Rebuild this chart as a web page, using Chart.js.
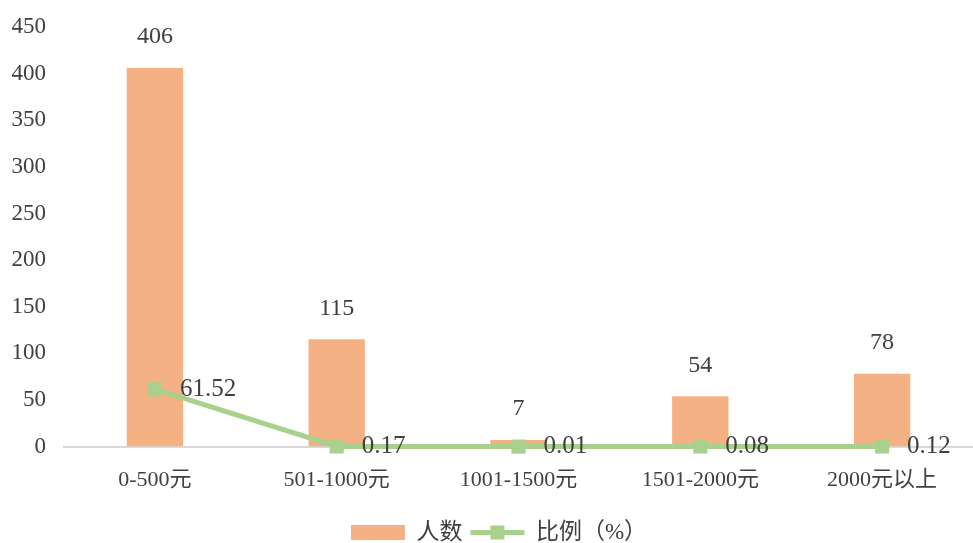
<!DOCTYPE html>
<html>
<head>
<meta charset="utf-8">
<script src="https://cdn.jsdelivr.net/npm/chart.js@4/dist/chart.umd.min.js"></script>
<style>
  html, body { margin: 0; padding: 0; background: #ffffff; }
  #wrap { width: 973px; height: 543px; position: relative; }
</style>
</head>
<body>
<div id="wrap"><canvas id="c" width="973" height="543"></canvas></div>
<script>
const categories = ['0-500元', '501-1000元', '1001-1500元', '1501-2000元', '2000元以上'];
const peopleCounts = [406, 115, 7, 54, 78];
const ratioPercent = [61.52, 0.17, 0.01, 0.08, 0.12];
const ratioLabels = ['61.52', '0.17', '0.01', '0.08', '0.12'];
const seriesNames = ['人数', '比例（%）'];
const yTicksMax = 450;
const yTicksStep = 50;

const FONT = "'Liberation Serif', 'Noto Sans CJK SC', serif";
const TEXT = '#404040';
const BAR = '#F4B183';
const LINE = '#A9D18E';
const LEGEND_SHIFT = 11;

const labelPlugin = {
  id: 'valueLabels',
  afterLayout(chart) {
    const legend = chart.legend;
    if (legend && !legend._shiftWrapped) {
      const orig = legend.draw;
      legend.draw = function () {
        const ctx = this.ctx;
        ctx.save();
        ctx.translate(LEGEND_SHIFT, 0);
        orig.apply(this, arguments);
        ctx.restore();
      };
      legend._shiftWrapped = true;
    }
  },
  afterDatasetsDraw(chart) {
    const ctx = chart.ctx;
    ctx.save();
    ctx.fillStyle = TEXT;
    ctx.font = '24px ' + FONT;
    const barMeta = chart.getDatasetMeta(0);
    ctx.textAlign = 'center';
    ctx.textBaseline = 'middle';
    barMeta.data.forEach((el, i) => {
      ctx.fillText(String(peopleCounts[i]), el.x, el.y - 31);
    });
    const lineMeta = chart.getDatasetMeta(1);
    ctx.textAlign = 'left';
    ctx.font = '25px ' + FONT;
    lineMeta.data.forEach((el, i) => {
      ctx.fillText(ratioLabels[i], el.x + 25, el.y);
    });
    ctx.restore();
  },
  afterDraw(chart) {
    const legend = chart.legend;
    if (!legend || !legend.legendHitBoxes || legend.legendHitBoxes.length < 2) return;
    const hb = legend.legendHitBoxes[1];
    const ctx = chart.ctx;
    const boxW = legend.options.labels.pointStyleWidth;
    const cx = hb.left + boxW / 2 + LEGEND_SHIFT;
    const cy = hb.top + hb.height / 2;
    ctx.save();
    ctx.fillStyle = LINE;
    ctx.fillRect(cx - 7, cy - 7, 14, 14);
    ctx.restore();
  }
};

new Chart(document.getElementById('c'), {
  data: {
    labels: categories,
    datasets: [
      {
        type: 'bar',
        label: seriesNames[0],
        data: peopleCounts,
        backgroundColor: BAR,
        borderWidth: 0,
        categoryPercentage: 1,
        barPercentage: 0.31,
        order: 1
      },
      {
        type: 'line',
        label: seriesNames[1],
        data: ratioPercent,
        borderColor: LINE,
        backgroundColor: LINE,
        borderWidth: 5,
        pointStyle: 'rect',
        pointRadius: 10,
        pointHoverRadius: 10,
        pointBorderWidth: 0,
        tension: 0,
        clip: false,
        order: 0
      }
    ]
  },
  options: {
    responsive: false,
    animation: false,
    devicePixelRatio: 1,
    layout: { autoPadding: false, padding: { top: 27, right: -3, left: 0, bottom: -11 } },
    scales: {
      x: {
        grid: { display: false, drawTicks: false },
        border: { display: true, color: '#d9d9d9', width: 2 },
        ticks: { color: TEXT, font: { family: FONT, size: 22 }, padding: 20, maxRotation: 0 },
        afterFit(scale) { scale.paddingLeft = 0; scale.paddingRight = 0; }
      },
      y: {
        min: 0,
        max: yTicksMax,
        grid: { display: false, drawTicks: false },
        border: { display: false },
        ticks: { stepSize: yTicksStep, color: TEXT, font: { family: FONT, size: 23 }, padding: 18 },
        afterFit(scale) { scale.width = 64; scale.paddingTop = 0; scale.paddingBottom = 0; }
      }
    },
    plugins: {
      tooltip: { enabled: false },
      legend: {
        position: 'bottom',
        labels: {
          usePointStyle: true,
          pointStyleWidth: 54,
          boxHeight: 15,
          padding: 8,
          color: TEXT,
          font: { family: FONT, size: 23 },
          generateLabels() {
            return [
              { text: seriesNames[0], fillStyle: BAR, strokeStyle: BAR, lineWidth: 0, pointStyle: 'rect', datasetIndex: 0, fontColor: TEXT },
              { text: seriesNames[1], fillStyle: LINE, strokeStyle: LINE, lineWidth: 5, pointStyle: 'line', datasetIndex: 1, fontColor: TEXT }
            ];
          }
        }
      }
    }
  },
  plugins: [labelPlugin]
});
</script>
</body>
</html>
